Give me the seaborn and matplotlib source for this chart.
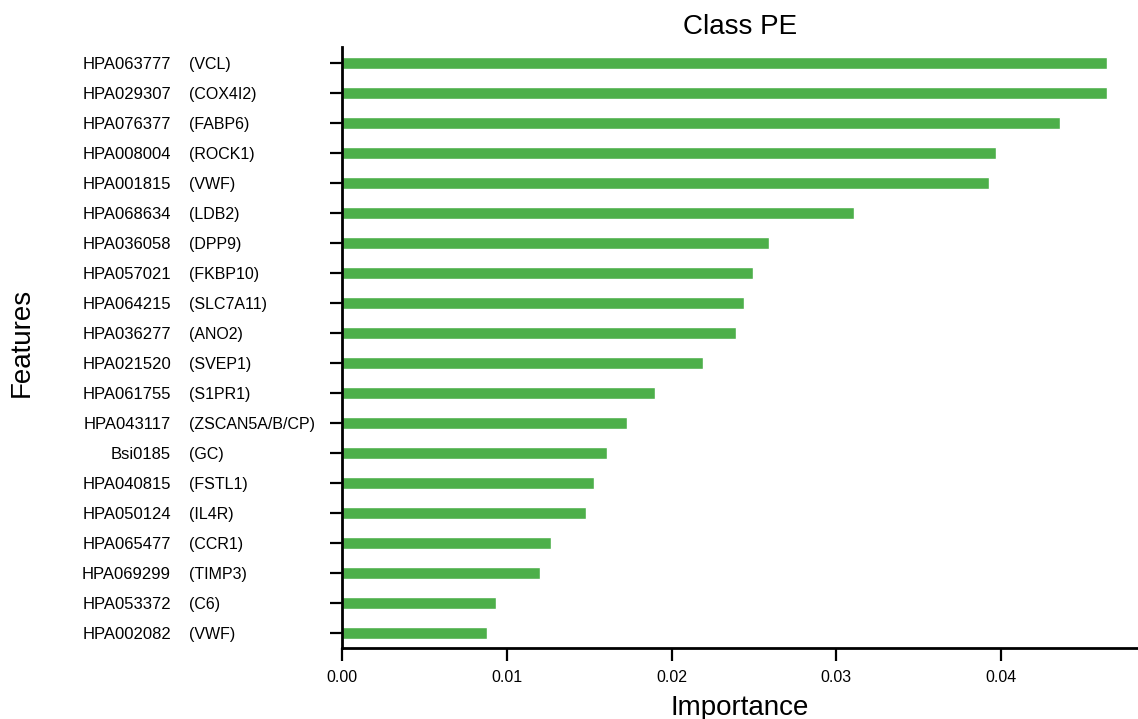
import pandas as pd
from matplotlib import pyplot as plt
import seaborn as sns

# feature importances for class PE (top 20)
ids = ['HPA063777', 'HPA029307', 'HPA076377', 'HPA008004', 'HPA001815',
       'HPA068634', 'HPA036058', 'HPA057021', 'HPA064215', 'HPA036277',
       'HPA021520', 'HPA061755', 'HPA043117', 'Bsi0185', 'HPA040815',
       'HPA050124', 'HPA065477', 'HPA069299', 'HPA053372', 'HPA002082']
genes = ['(VCL)', '(COX4I2)', '(FABP6)', '(ROCK1)', '(VWF)',
         '(LDB2)', '(DPP9)', '(FKBP10)', '(SLC7A11)', '(ANO2)',
         '(SVEP1)', '(S1PR1)', '(ZSCAN5A/B/CP)', '(GC)', '(FSTL1)',
         '(IL4R)', '(CCR1)', '(TIMP3)', '(C6)', '(VWF)']
importance = [0.04644, 0.04640, 0.04354, 0.03970, 0.03923,
              0.03105, 0.02588, 0.02491, 0.02438, 0.02390,
              0.02188, 0.01901, 0.01727, 0.01610, 0.01531,
              0.01479, 0.01267, 0.01200, 0.00937, 0.00881]
x_ticks = [0.00, 0.01, 0.02, 0.03, 0.04]

df = pd.DataFrame({'feature': [i + ' ' + g for i, g in zip(ids, genes)],
                   'importance': importance})

sns.set_style('ticks', {'axes.edgecolor': 'black', 'text.color': 'black',
                        'xtick.color': 'black', 'ytick.color': 'black',
                        'axes.labelcolor': 'black'})
plt.rcParams['font.family'] = ['Liberation Sans', 'DejaVu Sans']

fig, ax = plt.subplots(figsize=(11.38, 7.19), dpi=100)
fig.subplots_adjust(left=342 / 1138, right=1.0, top=1 - 46.7 / 719, bottom=1 - 648 / 719)

sns.barplot(data=df, x='importance', y='feature', orient='h', color='#4daf4a',
            saturation=1, width=0.4, ax=ax)

ax.set_xlim(0, 0.0483)
ax.set_ylim(19.5, -0.55)
ax.set_xticks(x_ticks)
ax.set_xticklabels(['%.2f' % t for t in x_ticks], fontsize=11.5)

# gene names as tick labels, ids as a second, right aligned column
ax.set_yticks(range(len(genes)))
ax.set_yticklabels(genes, fontsize=11.5, ha='left')
ax.tick_params(axis='y', length=9, width=1.6, pad=101.5)
ax.tick_params(axis='x', length=9, width=1.6, pad=7)
for i, name in enumerate(ids):
    ax.annotate(name, xy=(0, i), xycoords=('axes fraction', 'data'),
                xytext=(-171, 0), textcoords='offset pixels',
                ha='right', va='center_baseline', fontsize=12)

for side in ['left', 'bottom']:
    ax.spines[side].set_linewidth(2)
sns.despine(ax=ax)

ax.set_title('Class PE', fontsize=20, pad=9)
ax.set_xlabel('Importance', fontsize=20)
ax.set_ylabel('')
ax.xaxis.set_label_coords(0.5, -0.078)
fig.text(22 / 1138, 1 - 342 / 719, 'Features', rotation=90, ha='center', va='center', fontsize=20)

plt.savefig('out.png', dpi=100)
